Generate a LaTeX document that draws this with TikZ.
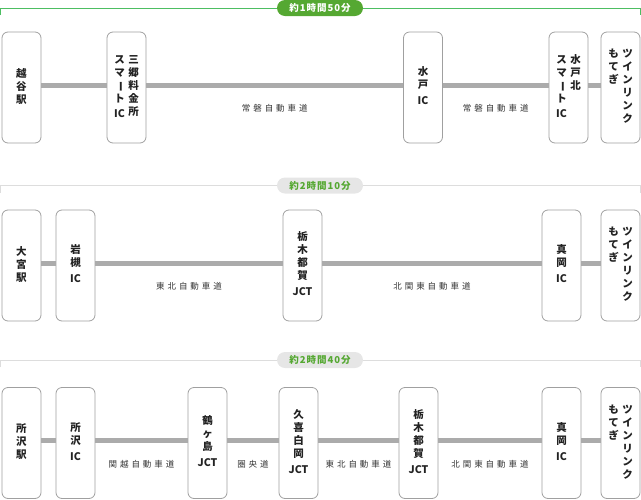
\documentclass[tikz,border=0pt]{standalone}
\usepackage{fontspec}
\usepackage{graphicx}
\setmainfont{Noto Sans CJK JP}
\newfontfamily\roadfont[LetterSpace=35]{Noto Sans CJK JP}
\newfontfamily\badgefont[LetterSpace=10]{Noto Sans CJK JP}
\definecolor{ink}{HTML}{222222}
\definecolor{boxgray}{HTML}{A0A0A0}
\definecolor{roadgray}{HTML}{ABABAB}
\definecolor{namegray}{HTML}{333333}
\definecolor{linegreen}{HTML}{4DBE62}
\definecolor{badgegreen}{HTML}{55A832}
\definecolor{linegray}{HTML}{DDDDDD}
\definecolor{badgegray}{HTML}{E6E6E6}
% vertical column of characters
\newcommand\tate[1]{\begin{tabular}[t]{@{}c@{}}#1\end{tabular}}
\newcommand\bou{\rotatebox[origin=c]{-90}{ー}}
\begin{document}
\begin{tikzpicture}
[x=1pt, y=-1pt,
 stn/.style={draw=boxgray, line width=0.8pt, rounded corners=6pt, minimum width=39pt,
   minimum height=111pt, inner sep=0pt, text=ink,
   font=\bfseries\fontsize{10.5}{13}\selectfont},
 road/.style={draw=roadgray, line width=5pt},
 roadname/.style={below=17pt, inner sep=0pt, text=namegray,
   font=\roadfont\fontsize{8.5}{10}\selectfont},
 badge/.style={rounded corners=8pt, minimum width=86pt, minimum height=16pt,
   inner sep=0pt, font=\badgefont\bfseries\fontsize{9.5}{10}\selectfont},
 head/.style={line width=1pt}]
\useasboundingbox (0,0) rectangle (641,499);
% 1: 越谷駅
\node[badge, fill=badgegreen, text=white] (time1) at (320,8) {約1時間50分};
\coordinate (h1a) at (0.5,15);
\coordinate (h1b) at (640.5,15);
\draw[head, linegreen] (h1a) |- (time1.west);
\draw[head, linegreen] (time1.east) -| (h1b);
\node[stn] (koshigaya) at (21.5,87.5) {\tate{越\\谷\\駅}};
\node[stn] (misato) at (126.5,87.5) {\tate{ス\\マ\\\bou\\ト\\[2pt]IC}\hspace{3.5pt}\tate{三\\郷\\料\\金\\所}};
\node[stn] (mito) at (423,87.5) {\tate{水\\戸\\[3pt]IC}};
\node[stn] (mitokita) at (568.5,87.5) {\tate{ス\\マ\\\bou\\ト\\[2pt]IC}\hspace{3.5pt}\tate{水\\戸\\北}};
\node[stn] (motegi1) at (620.5,87.5) {\tate{も\\て\\ぎ}\hspace{3.5pt}\tate{ツ\\イ\\ン\\リ\\ン\\ク}};
\draw[road] ([yshift=2.5pt]koshigaya.east) -- ([yshift=2.5pt]misato.west);
\draw[road] ([yshift=2.5pt]misato.east) -- ([yshift=2.5pt]mito.west)
  node[roadname, midway] (joban1) {常磐自動車道};
\draw[road] ([yshift=2.5pt]mito.east) -- ([yshift=2.5pt]mitokita.west)
  node[roadname, midway] (joban2) {常磐自動車道};
\draw[road] ([yshift=2.5pt]mitokita.east) -- ([yshift=2.5pt]motegi1.west);
% 2: 大宮駅
\node[badge, fill=badgegray, text=badgegreen] (time2) at (320,185.5) {約2時間10分};
\coordinate (h2a) at (0.5,192.5);
\coordinate (h2b) at (640.5,192.5);
\draw[head, linegray] (h2a) |- (time2.west);
\draw[head, linegray] (time2.east) -| (h2b);
\node[stn] (omiya) at (21.5,265.5) {\tate{大\\宮\\駅}};
\node[stn] (iwatsuki) at (75.5,265.5) {\tate{岩\\槻\\[3pt]IC}};
\node[stn] (tochigi2) at (302.5,265.5) {\tate{栃\\木\\都\\賀\\[3pt]JCT}};
\node[stn] (moka2) at (561.5,265.5) {\tate{真\\岡\\[3pt]IC}};
\node[stn] (motegi2) at (620.5,265.5) {\tate{も\\て\\ぎ}\hspace{3.5pt}\tate{ツ\\イ\\ン\\リ\\ン\\ク}};
\draw[road] ([yshift=2.5pt]omiya.east) -- ([yshift=2.5pt]iwatsuki.west);
\draw[road] ([yshift=2.5pt]iwatsuki.east) -- ([yshift=2.5pt]tochigi2.west)
  node[roadname, midway] (tohoku2) {東北自動車道};
\draw[road] ([yshift=2.5pt]tochigi2.east) -- ([yshift=2.5pt]moka2.west)
  node[roadname, midway] (kitakanto2) {北関東自動車道};
\draw[road] ([yshift=2.5pt]moka2.east) -- ([yshift=2.5pt]motegi2.west);
% 3: 所沢駅
\node[badge, fill=badgegray, text=badgegreen] (time3) at (320,360) {約2時間40分};
\coordinate (h3a) at (0.5,367);
\coordinate (h3b) at (640.5,367);
\draw[head, linegray] (h3a) |- (time3.west);
\draw[head, linegray] (time3.east) -| (h3b);
\node[stn] (tokorozawa) at (21.5,443) {\tate{所\\沢\\駅}};
\node[stn] (tokoroIC) at (75.5,443) {\tate{所\\沢\\[3pt]IC}};
\node[stn] (tsurugashima) at (207.5,443) {\tate{鶴\\ヶ\\島\\[3pt]JCT}};
\node[stn] (kuki) at (298.5,443) {\tate{久\\喜\\白\\岡\\[3pt]JCT}};
\node[stn] (tochigi3) at (418.5,443) {\tate{栃\\木\\都\\賀\\[3pt]JCT}};
\node[stn] (moka3) at (561.5,443) {\tate{真\\岡\\[3pt]IC}};
\node[stn] (motegi3) at (620.5,443) {\tate{も\\て\\ぎ}\hspace{3.5pt}\tate{ツ\\イ\\ン\\リ\\ン\\ク}};
\draw[road] ([yshift=2.5pt]tokorozawa.east) -- ([yshift=2.5pt]tokoroIC.west);
\draw[road] ([yshift=2.5pt]tokoroIC.east) -- ([yshift=2.5pt]tsurugashima.west)
  node[roadname, midway] (kanetsu3) {関越自動車道};
\draw[road] ([yshift=2.5pt]tsurugashima.east) -- ([yshift=2.5pt]kuki.west)
  node[roadname, midway] (kenodo3) {圏央道};
\draw[road] ([yshift=2.5pt]kuki.east) -- ([yshift=2.5pt]tochigi3.west)
  node[roadname, midway] (tohoku3) {東北自動車道};
\draw[road] ([yshift=2.5pt]tochigi3.east) -- ([yshift=2.5pt]moka3.west)
  node[roadname, midway] (kitakanto3) {北関東自動車道};
\draw[road] ([yshift=2.5pt]moka3.east) -- ([yshift=2.5pt]motegi3.west);
\end{tikzpicture}
\end{document}
